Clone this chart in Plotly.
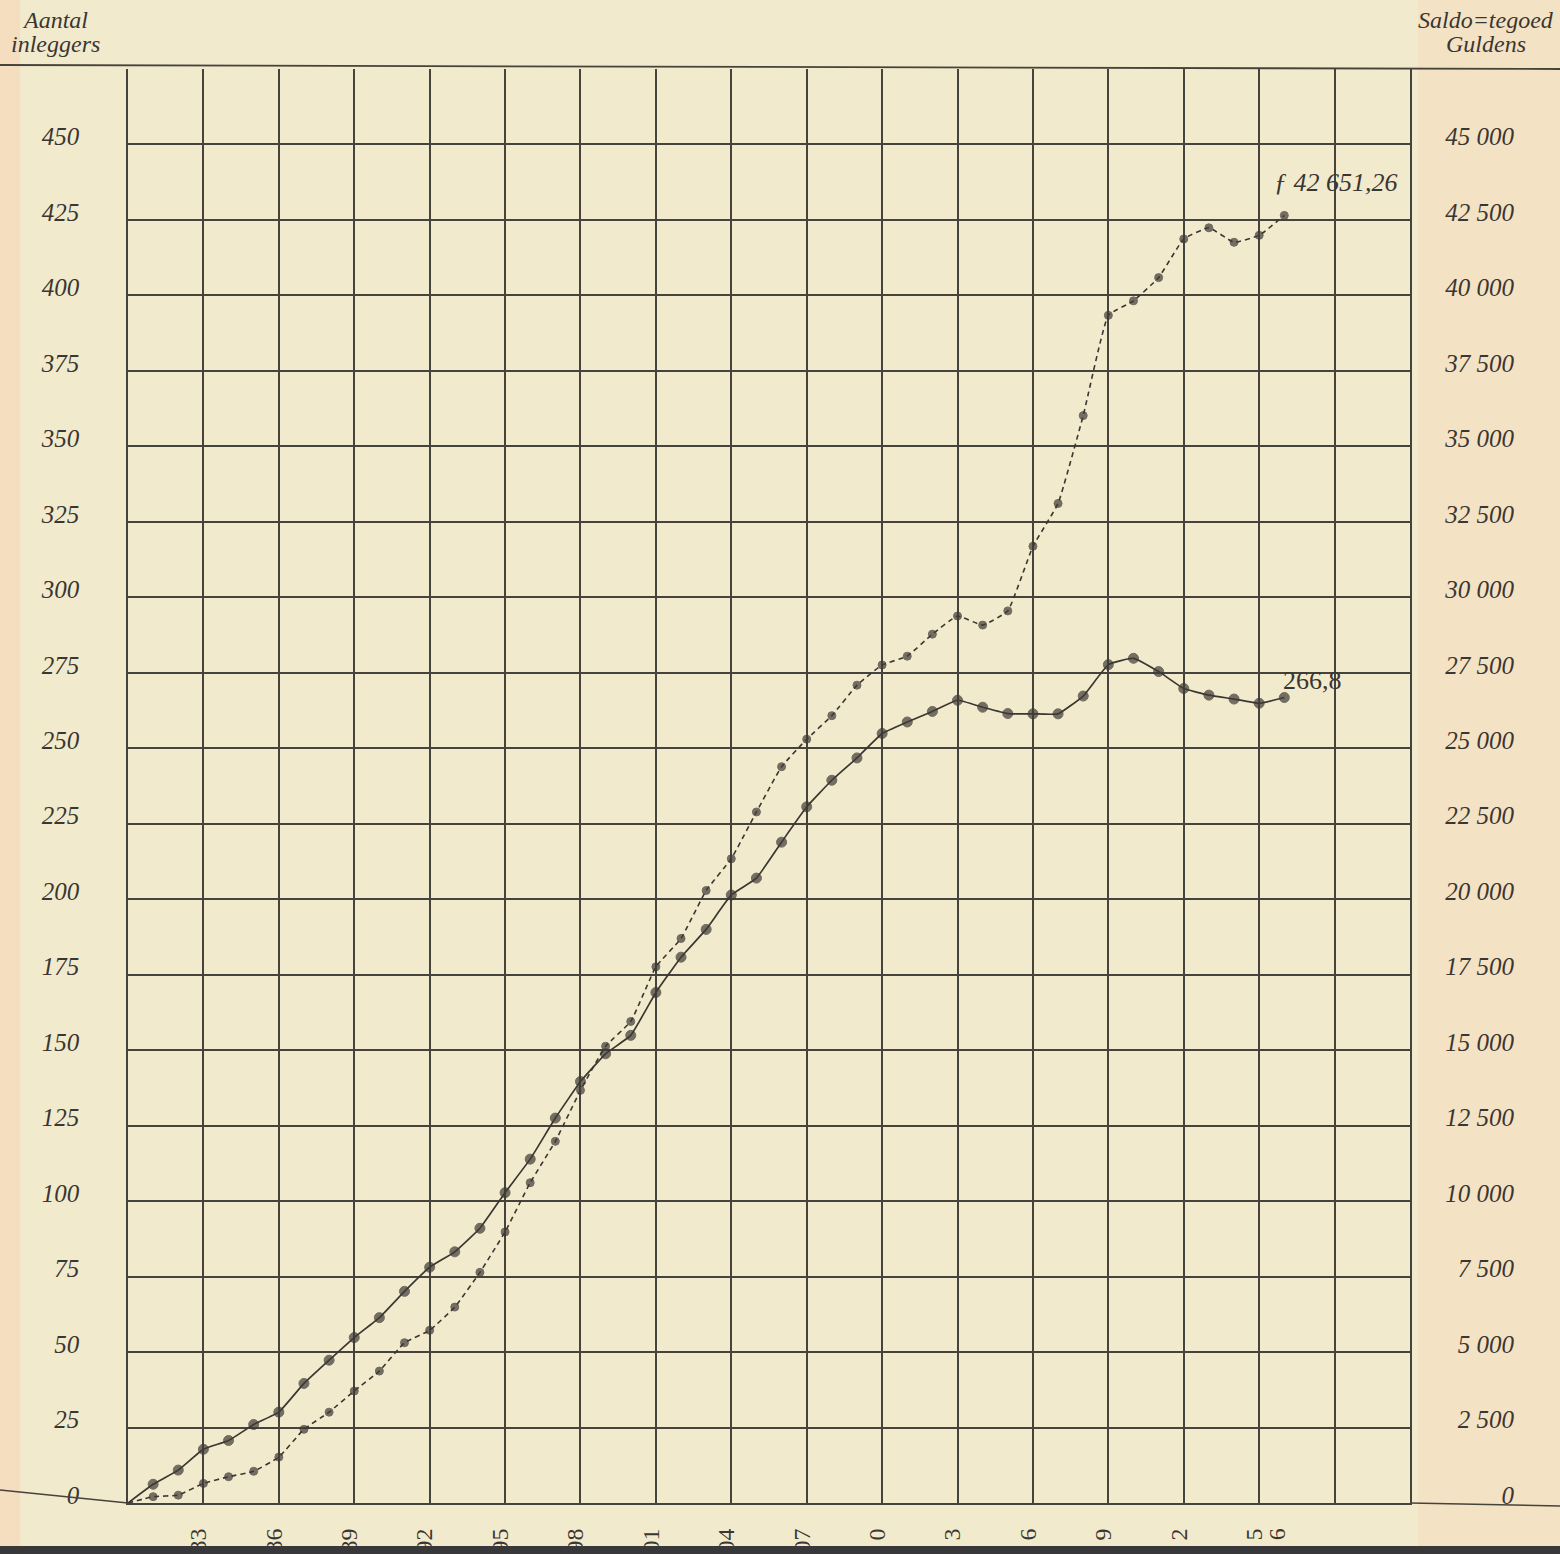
import plotly.graph_objects as go

# ---------------- data ----------------
years = list(range(1880, 1927))

# Aantal inleggers (left axis, solid line)
inleggers = [0, 6.2, 10.9, 17.8, 20.7, 26.0, 30.1, 39.6, 47.3, 54.8,
             61.4, 70.1, 78.1, 83.2, 91.0, 102.8, 113.9, 127.5, 139.6, 148.8,
             154.9, 169.1, 180.8, 190.0, 201.4, 207.0, 218.9, 230.6, 239.4, 246.8,
             254.9, 258.7, 262.2, 265.9, 263.6, 261.5, 261.4, 261.4, 267.3, 277.7,
             279.8, 275.4, 269.8, 267.6, 266.3, 264.9, 266.8]

# Saldo-tegoed in guldens (right axis, dashed line)
saldo = [0, 210, 260, 650, 870, 1050, 1520, 2440, 3010, 3710,
         4370, 5310, 5720, 6490, 7640, 8980, 10610, 11980, 13670, 15130,
         15950, 17760, 18700, 20290, 21340, 22890, 24390, 25300, 26080, 27090,
         27760, 28050, 28780, 29380, 29080, 29550, 31690, 33110, 36020, 39340,
         39820, 40590, 41870, 42240, 41760, 41990, 42651.26]

x_grid_years = list(range(1880, 1932, 3))
x_tick_text = ["", "83", "86", "89", "92", "95", "98", "01", "04", "07",
               "0", "3", "6", "9", "2", "5", "", ""]
extra_year_label = (1926, "6")

left_ticks = list(range(0, 451, 25))
right_ticks = list(range(0, 45001, 2500))
right_tick_text = [f"{v:,}".replace(",", " ") for v in right_ticks]

label_saldo_end = "ƒ 42 651,26"
label_inleggers_end = "266,8"

# ---------------- styling ----------------
W, H = 1560, 1554
ML, MR, MT, MB = 128, 40, 69, 51
PW = W - ML - MR          # plot-area width in px
PH = H - MT - MB          # plot-area height in px
X_RIGHT = 1410            # right border of the chart grid
XDOM = (X_RIGHT - ML) / PW

PAPER = "#f2eacd"
INK = "#3a3631"
DOT = "#3f3b36"
GRID = "#46423c"
SERIF = "Liberation Serif"

def px_x(px):
    return (px - ML) / PW

def px_y(py):
    return (H - MB - py) / PH

sizes_solid = [0] + [10] * (len(years) - 1)
sizes_dash = [0] + [8] * (len(years) - 1)

fig = go.Figure()
fig.add_trace(go.Scatter(
    x=years, y=inleggers, mode="lines+markers", name="Aantal inleggers",
    line=dict(color=INK, width=1.7, shape="spline", smoothing=0.35),
    marker=dict(size=sizes_solid, color=DOT), yaxis="y",
))
fig.add_trace(go.Scatter(
    x=years, y=saldo, mode="lines+markers", name="Saldo-tegoed",
    line=dict(color=INK, width=1.6, dash="5px,4px", shape="spline", smoothing=0.35),
    marker=dict(size=sizes_dash, color=DOT), yaxis="y2",
))

shapes = [
    # peach tint in the right margin and left edge (paper)
    dict(type="rect", xref="paper", yref="paper", x0=px_x(1418), x1=px_x(W),
         y0=px_y(H), y1=px_y(0), fillcolor="rgba(250,208,178,0.30)",
         line=dict(width=0), layer="below"),
    dict(type="rect", xref="paper", yref="paper", x0=px_x(0), x1=px_x(20),
         y0=px_y(H), y1=px_y(0), fillcolor="rgba(250,205,170,0.4)",
         line=dict(width=0), layer="below"),
    # top rule across the full page
    dict(type="line", xref="paper", yref="paper", x0=px_x(0), x1=px_x(W),
         y0=px_y(65), y1=px_y(69), line=dict(color=GRID, width=1.8)),
    # bottom rule extended left (slightly sloping) and right
    dict(type="line", xref="paper", yref="paper", x0=px_x(0), x1=px_x(ML),
         y0=px_y(1490), y1=px_y(1503), line=dict(color=GRID, width=1.6)),
    dict(type="line", xref="paper", yref="paper", x0=px_x(X_RIGHT), x1=px_x(W),
         y0=px_y(1503), y1=px_y(1506), line=dict(color=GRID, width=1.6)),
    # dark page edge at the bottom
    dict(type="rect", xref="paper", yref="paper", x0=px_x(0), x1=px_x(W),
         y0=px_y(H + 2), y1=px_y(1546), fillcolor="#38383a",
         line=dict(width=0), layer="above"),
]

title_font = dict(family=SERIF, size=24, color=INK, style="italic")
annotations = [
    dict(text="Aantal", x=px_x(55), y=px_y(20), xref="paper", yref="paper",
         showarrow=False, font=title_font, xanchor="center", yanchor="middle"),
    dict(text="inleggers", x=px_x(55), y=px_y(44), xref="paper", yref="paper",
         showarrow=False, font=title_font, xanchor="center", yanchor="middle"),
    dict(text="Saldo=tegoed", x=px_x(1486), y=px_y(20), xref="paper", yref="paper",
         showarrow=False, font=title_font, xanchor="center", yanchor="middle"),
    dict(text="Guldens", x=px_x(1486), y=px_y(44), xref="paper", yref="paper",
         showarrow=False, font=title_font, xanchor="center", yanchor="middle"),
    dict(text=label_saldo_end, x=years[-1], y=saldo[-1], xref="x", yref="y2",
         showarrow=False, xanchor="left", yanchor="middle", xshift=-12, yshift=33,
         font=dict(family=SERIF, size=26, color=INK, style="italic")),
    dict(text=label_inleggers_end, x=years[-1], y=inleggers[-1], xref="x", yref="y",
         showarrow=False, xanchor="left", yanchor="middle", xshift=-3, yshift=17,
         font=dict(family=SERIF, size=26, color=INK)),
    dict(text=extra_year_label[1], x=extra_year_label[0], y=px_y(1534),
         xref="x", yref="paper", showarrow=False, textangle=-90,
         xanchor="center", yanchor="middle", xshift=-7,
         font=dict(family=SERIF, size=24, color=INK)),
]

fig.update_layout(
    width=W, height=H,
    margin=dict(l=ML, r=MR, t=MT, b=MB, autoexpand=False),
    paper_bgcolor=PAPER, plot_bgcolor=PAPER,
    showlegend=False,
    shapes=shapes, annotations=annotations,
    xaxis=dict(
        domain=[0, XDOM], range=[1880, 1931],
        tickmode="array", tickvals=x_grid_years, ticktext=x_tick_text,
        tickangle=-90, ticks="", ticklabelstandoff=14, ticklabelshift=-5,
        tickfont=dict(family=SERIF, size=24, color=INK),
        showgrid=True, gridcolor=GRID, gridwidth=1.6,
        showline=True, linecolor=GRID, linewidth=1.6, mirror=False,
        zeroline=False, fixedrange=True,
    ),
    yaxis=dict(
        range=[0, 475],
        tickmode="array", tickvals=left_ticks,
        ticks="", ticklabelstandoff=42, ticklabelshift=-8,
        tickfont=dict(family=SERIF, size=25, color=INK, style="italic"),
        showgrid=True, gridcolor=GRID, gridwidth=1.6,
        showline=True, linecolor=GRID, linewidth=1.6, mirror=True,
        zeroline=False, fixedrange=True,
    ),
    yaxis2=dict(
        range=[0, 47500], overlaying="y", anchor="free", position=1.0, side="left",
        tickmode="array", tickvals=right_ticks, ticktext=right_tick_text,
        ticks="", ticklabelstandoff=6, ticklabelshift=-8,
        tickfont=dict(family=SERIF, size=25, color=INK, style="italic"),
        showgrid=False, showline=False, zeroline=False, fixedrange=True,
    ),
)

fig.write_html(
    "out.html",
    config={"displayModeBar": False},
    post_script="document.body.style.margin='0';document.body.style.background='%s';" % PAPER,
)
